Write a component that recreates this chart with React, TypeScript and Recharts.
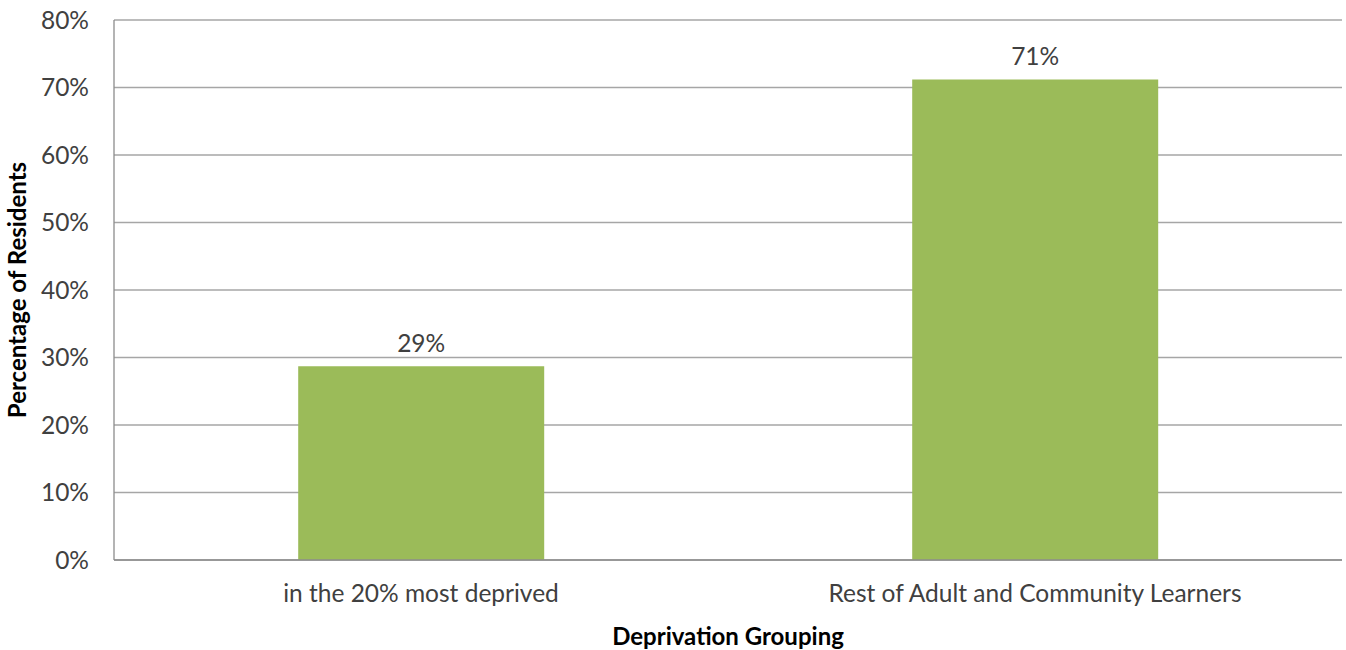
import { BarChart, Bar, XAxis, YAxis, CartesianGrid, LabelList } from 'recharts'

const groups = ['in the 20% most deprived', 'Rest of Adult and Community Learners']
const shares = [28.7, 71.2]
const yTicks = [0, 10, 20, 30, 40, 50, 60, 70, 80]

const data = groups.map((g, i) => ({ group: g, share: shares[i] }))

const font = 'Lato, "Open Sans", sans-serif'
const ink = '#404040'

export default function App() {
  return (
    <div style={{ position: 'absolute', left: 0, top: 0, background: '#fff' }}>
      <BarChart
        width={1346}
        height={650}
        data={data}
        margin={{ top: 20, right: 4, left: 0, bottom: 0 }}
        barCategoryGap="30%"
      >
        <CartesianGrid vertical={false} stroke="#a6a6a6" strokeWidth={1.3} />
        <XAxis
          dataKey="group"
          height={90}
          stroke="#8c8c8c"
          strokeWidth={1.3}
          tickLine={false}
          tickSize={0}
          tickMargin={25}
          tick={{ fill: ink, fontSize: 24.5, fontFamily: font }}
          label={{
            value: 'Deprivation Grouping',
            position: 'insideBottom',
            offset: 5,
            style: { fill: '#000', fontSize: 24, fontWeight: 700, fontFamily: font },
          }}
        />
        <YAxis
          width={114}
          domain={[0, 80]}
          ticks={yTicks}
          interval={0}
          tickFormatter={(v: number) => `${v}%`}
          stroke="#8c8c8c"
          strokeWidth={1.3}
          tickLine={false}
          tickSize={0}
          tickMargin={25}
          tick={{ fill: ink, fontSize: 24.5, fontFamily: font }}
          label={{
            value: 'Percentage of Residents',
            angle: -90,
            position: 'insideLeft',
            offset: 17,
            style: { textAnchor: 'middle', fill: '#000', fontSize: 24, fontWeight: 700, fontFamily: font },
          }}
        />
        <Bar dataKey="share" fill="#9BBB59" isAnimationActive={false}>
          <LabelList
            dataKey="share"
            position="top"
            offset={14}
            formatter={(v: number) => `${Math.round(v)}%`}
            style={{ fill: ink, fontSize: 24.5, fontFamily: font }}
          />
        </Bar>
      </BarChart>
    </div>
  )
}
